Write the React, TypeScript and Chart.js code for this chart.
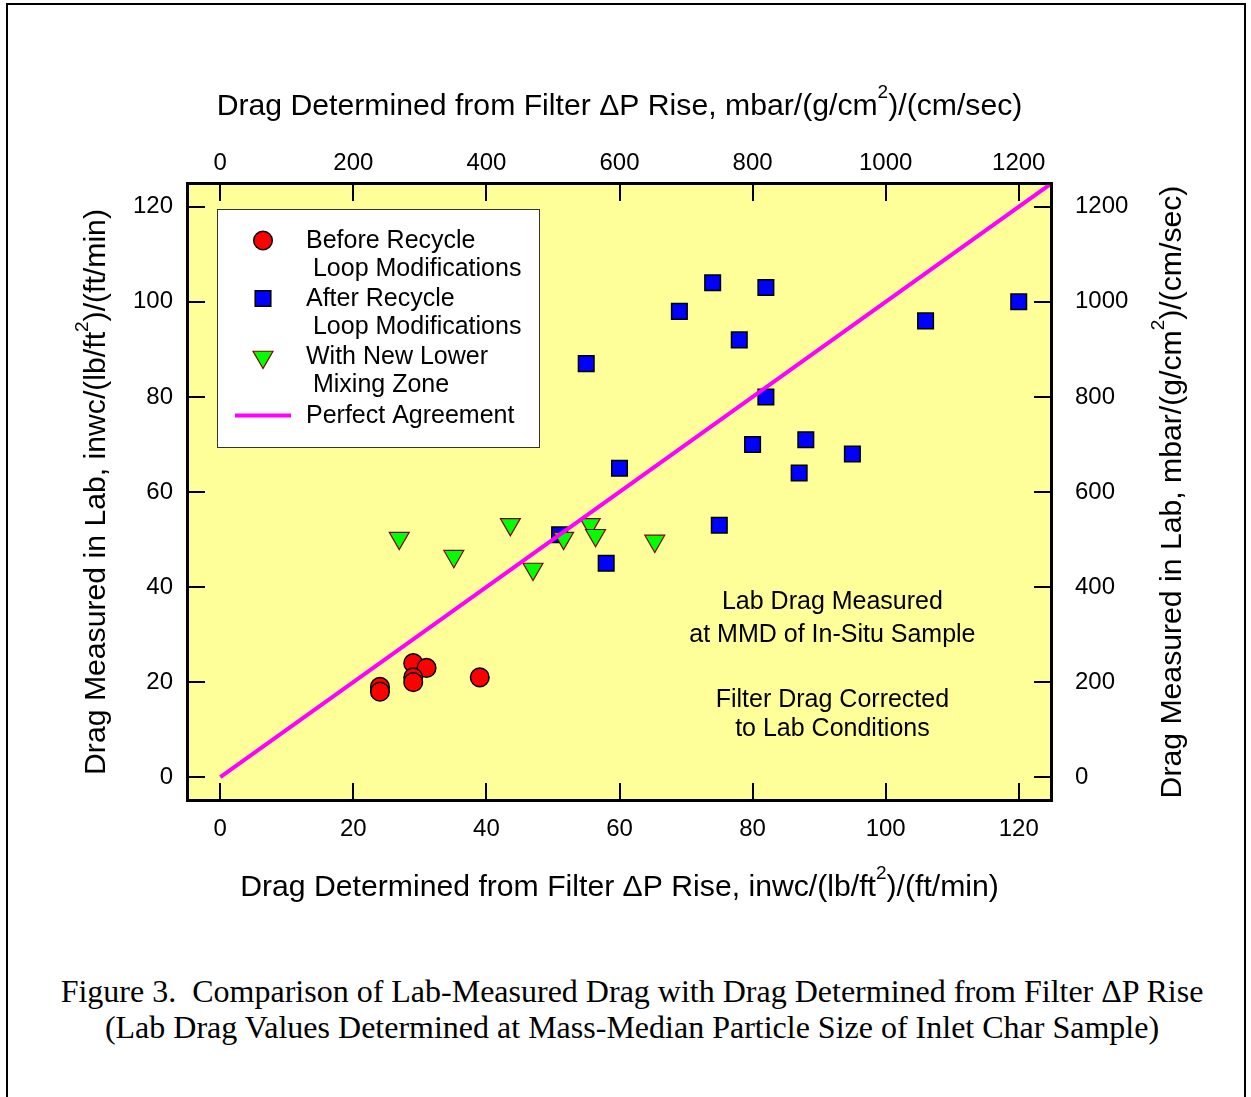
import React, { useEffect, useRef } from 'react';
import { Chart, registerables } from 'chart.js';

Chart.register(...registerables);

// ---- Data ----
const X_TICKS = [0, 20, 40, 60, 80, 100, 120];
const Y_TICKS = [0, 20, 40, 60, 80, 100, 120];
const X2_TICKS = [0, 200, 400, 600, 800, 1000, 1200];
const Y2_TICKS = [0, 200, 400, 600, 800, 1000, 1200];

const BEFORE_X = [24, 24, 29, 31, 29, 29, 39];
const BEFORE_Y = [19, 18, 24, 23, 21, 20, 21];

const AFTER_X = [74, 82, 69, 78, 55, 120, 106, 82, 60, 80, 88, 95, 87, 75, 51, 58];
const AFTER_Y = [104, 103, 98, 92, 87, 100, 96, 80, 65, 70, 71, 68, 64, 53, 51, 45];

const NEW_X = [26.9, 35.1, 43.6, 47.0, 51.6, 55.6, 56.4, 65.3];
const NEW_Y = [50.3, 46.5, 53.2, 43.8, 50.3, 53.2, 50.9, 49.7];

const LINE_X = [0, 125];
const LINE_Y = [0, 125];

const LEGEND_LABELS = [
  ['Before Recycle', ' Loop Modifications'],
  ['After Recycle', ' Loop Modifications'],
  ['With New Lower', ' Mixing Zone'],
  ['Perfect Agreement'],
];

const NOTE_LINES = [
  ['Lab Drag Measured', 'at MMD of In-Situ Sample'],
  ['Filter Drag Corrected', 'to Lab Conditions'],
];

// odd-indexed parts are superscripts
const TITLE_BOTTOM = ['Drag Determined from Filter \u0394P Rise, inwc/(lb/ft', '2', ')/(ft/min)'];
const TITLE_TOP = ['Drag Determined from Filter \u0394P Rise, mbar/(g/cm', '2', ')/(cm/sec)'];
const TITLE_LEFT = ['Drag Measured in Lab, inwc/(lb/ft', '2', ')/(ft/min)'];
const TITLE_RIGHT = ['Drag Measured in Lab, mbar/(g/cm', '2', ')/(cm/sec)'];

const CAPTION_LINES = [
  'Figure 3.  Comparison of Lab-Measured Drag with Drag Determined from Filter \u0394P Rise',
  '(Lab Drag Values Determined at Mass-Median Particle Size of Inlet Char Sample)',
];

const FONT = '"Liberation Sans", Arial, Helvetica, sans-serif';
const TICK_FONT = 24;
const TEXT_FONT = 25;
const TITLE_FONT = 30.2;
const SUP_FONT = 19;

const zip = (xs: number[], ys: number[]) => xs.map((x, i) => ({ x, y: ys[i] }));

function drawRich(
  ctx: CanvasRenderingContext2D,
  parts: string[],
  cx: number,
  baseY: number,
  rotation: number
) {
  ctx.save();
  ctx.translate(cx, baseY);
  ctx.rotate(rotation);
  ctx.textBaseline = 'alphabetic';
  ctx.textAlign = 'left';
  ctx.fillStyle = '#000';
  const widths = parts.map((p, i) => {
    ctx.font = `${i % 2 ? SUP_FONT : TITLE_FONT}px ${FONT}`;
    return ctx.measureText(p).width;
  });
  const total = widths.reduce((a, b) => a + b, 0);
  let x = -total / 2;
  parts.forEach((p, i) => {
    ctx.font = `${i % 2 ? SUP_FONT : TITLE_FONT}px ${FONT}`;
    ctx.fillText(p, x, i % 2 ? -17 : 0);
    x += widths[i];
  });
  ctx.restore();
}

function drawMarker(ctx: CanvasRenderingContext2D, kind: string, x: number, y: number) {
  ctx.save();
  if (kind === 'circle') {
    ctx.beginPath();
    ctx.arc(x, y, 9.3, 0, Math.PI * 2);
    ctx.fillStyle = '#FF0000';
    ctx.fill();
    ctx.lineWidth = 1.5;
    ctx.strokeStyle = '#000';
    ctx.stroke();
  } else if (kind === 'rect') {
    const s = 7.8;
    ctx.beginPath();
    ctx.rect(x - s, y - s, 2 * s, 2 * s);
    ctx.fillStyle = '#0000FF';
    ctx.fill();
    ctx.lineWidth = 1.5;
    ctx.strokeStyle = '#000';
    ctx.stroke();
  } else if (kind === 'tri') {
    const r = 11.5;
    ctx.beginPath();
    for (let k = 0; k < 3; k++) {
      const a = Math.PI + (k * 2 * Math.PI) / 3;
      const px = x + Math.sin(a) * r;
      const py = y - Math.cos(a) * r;
      if (k === 0) ctx.moveTo(px, py);
      else ctx.lineTo(px, py);
    }
    ctx.closePath();
    ctx.fillStyle = '#00FF00';
    ctx.fill();
    ctx.lineWidth = 1.2;
    ctx.strokeStyle = '#800000';
    ctx.stroke();
  } else if (kind === 'line') {
    ctx.beginPath();
    ctx.moveTo(x - 28, y);
    ctx.lineTo(x + 28, y);
    ctx.lineWidth = 4;
    ctx.strokeStyle = '#FF00FF';
    ctx.stroke();
  }
  ctx.restore();
}

const decorPlugin = {
  id: 'decor',
  beforeDatasetsDraw(chart: any) {
    const { ctx, chartArea: a } = chart;
    ctx.save();
    ctx.fillStyle = '#FFFF99';
    ctx.fillRect(a.left, a.top, a.right - a.left, a.bottom - a.top);
    ctx.restore();
  },
  afterDatasetsDraw(chart: any) {
    const { ctx, chartArea: a, scales } = chart;
    ctx.save();
    // inward ticks
    ctx.strokeStyle = '#000';
    ctx.lineWidth = 2;
    const L = 18;
    ctx.beginPath();
    scales.x.ticks.forEach((t: any) => {
      const p = Math.round(scales.x.getPixelForValue(t.value));
      ctx.moveTo(p, a.bottom);
      ctx.lineTo(p, a.bottom - L);
    });
    scales.x2.ticks.forEach((t: any) => {
      const p = Math.round(scales.x2.getPixelForValue(t.value));
      ctx.moveTo(p, a.top);
      ctx.lineTo(p, a.top + L);
    });
    scales.y.ticks.forEach((t: any) => {
      const p = Math.round(scales.y.getPixelForValue(t.value));
      ctx.moveTo(a.left, p);
      ctx.lineTo(a.left + L, p);
    });
    scales.y2.ticks.forEach((t: any) => {
      const p = Math.round(scales.y2.getPixelForValue(t.value));
      ctx.moveTo(a.right, p);
      ctx.lineTo(a.right - L, p);
    });
    ctx.stroke();
    // frame
    ctx.lineWidth = 3;
    ctx.strokeRect(a.left + 0.5, a.top + 0.5, a.right - a.left - 1, a.bottom - a.top - 1);

    // legend
    const bx = a.left + 30;
    const by = a.top + 26;
    const bw = 322;
    const bh = 238;
    ctx.fillStyle = '#FFFFFF';
    ctx.fillRect(bx, by, bw, bh);
    ctx.lineWidth = 1;
    ctx.strokeStyle = '#333';
    ctx.strokeRect(bx + 0.5, by + 0.5, bw, bh);
    const kinds = ['circle', 'rect', 'tri', 'line'];
    const markerY = [31.5, 89.5, 148, 206.5];
    const textY = [32, 90, 148, 207];
    ctx.font = `${TEXT_FONT}px ${FONT}`;
    ctx.textBaseline = 'middle';
    ctx.textAlign = 'left';
    LEGEND_LABELS.forEach((lines, i) => {
      drawMarker(ctx, kinds[i], bx + 46, by + markerY[i]);
      ctx.fillStyle = '#000';
      lines.forEach((s, j) => {
        ctx.fillText(s, bx + 89, by + textY[i] + j * 28);
      });
    });

    // notes
    ctx.textAlign = 'center';
    ctx.fillStyle = '#000';
    const nx = scales.x.getPixelForValue(92);
    const noteY = [[602, 635], [700, 729]];
    NOTE_LINES.forEach((lines, i) => {
      lines.forEach((s, j) => ctx.fillText(s, nx, noteY[i][j]));
    });
    ctx.restore();
  },
  afterDraw(chart: any) {
    const { ctx, chartArea: a } = chart;
    const cx = (a.left + a.right) / 2;
    const cy = (a.top + a.bottom) / 2;
    drawRich(ctx, TITLE_TOP, cx, 115, 0);
    drawRich(ctx, TITLE_BOTTOM, cx, 896, 0);
    drawRich(ctx, TITLE_LEFT, 105, cy, -Math.PI / 2);
    drawRich(ctx, TITLE_RIGHT, 1181, cy, -Math.PI / 2);
  },
};

const tickOpts = (padding: number) => ({
  color: '#000',
  font: { size: TICK_FONT, family: FONT },
  padding,
  maxRotation: 0,
  autoSkip: false,
  callback: (v: any) => String(v),
});

export default function App() {
  const ref = useRef<HTMLCanvasElement>(null);

  useEffect(() => {
    if (!ref.current) return;
    Chart.defaults.font.family = FONT;
    Chart.defaults.color = '#000';
    const chart = new Chart(ref.current, {
      type: 'scatter',
      data: {
        datasets: [
          {
            label: 'Perfect Agreement',
            data: zip(LINE_X, LINE_Y),
            showLine: true,
            borderColor: '#FF00FF',
            borderWidth: 4,
            pointRadius: 0,
            order: 0,
          } as any,
          {
            label: 'With New Lower Mixing Zone',
            data: zip(NEW_X, NEW_Y),
            pointStyle: 'triangle',
            rotation: 180,
            pointRadius: 11.5,
            backgroundColor: '#00FF00',
            borderColor: '#800000',
            borderWidth: 1.2,
            order: 1,
          },
          {
            label: 'After Recycle Loop Modifications',
            data: zip(AFTER_X, AFTER_Y),
            pointStyle: 'rect',
            pointRadius: 11,
            backgroundColor: '#0000FF',
            borderColor: '#000',
            borderWidth: 1.5,
            order: 2,
          },
          {
            label: 'Before Recycle Loop Modifications',
            data: zip(BEFORE_X, BEFORE_Y),
            pointStyle: 'circle',
            pointRadius: 9.3,
            backgroundColor: '#FF0000',
            borderColor: '#000',
            borderWidth: 1.5,
            order: 3,
          },
        ],
      },
      options: {
        responsive: false,
        animation: false,
        events: [],
        layout: { padding: 0 },
        plugins: { legend: { display: false }, tooltip: { enabled: false } },
        scales: {
          x: {
            type: 'linear',
            position: 'bottom',
            min: -5,
            max: 125,
            grid: { display: false, drawTicks: false },
            border: { display: false },
            ticks: tickOpts(13.5),
            afterBuildTicks: (s: any) => { s.ticks = X_TICKS.map((value) => ({ value })); },
            afterFit: (s: any) => { s.height = 129; },
          },
          x2: {
            type: 'linear',
            position: 'top',
            min: -50,
            max: 1250,
            grid: { display: false, drawTicks: false },
            border: { display: false },
            ticks: tickOpts(5),
            afterBuildTicks: (s: any) => { s.ticks = X2_TICKS.map((value) => ({ value })); },
            afterFit: (s: any) => { s.height = 183; },
          },
          y: {
            type: 'linear',
            position: 'left',
            min: -5,
            max: 125,
            grid: { display: false, drawTicks: false },
            border: { display: false },
            ticks: tickOpts(14),
            afterBuildTicks: (s: any) => { s.ticks = Y_TICKS.map((value) => ({ value })); },
            afterFit: (s: any) => { s.width = 187; },
          },
          y2: {
            type: 'linear',
            position: 'right',
            min: -50,
            max: 1250,
            grid: { display: false, drawTicks: false },
            border: { display: false },
            ticks: tickOpts(23),
            afterBuildTicks: (s: any) => { s.ticks = Y2_TICKS.map((value) => ({ value })); },
            afterFit: (s: any) => { s.width = 199; },
          },
        },
      } as any,
      plugins: [decorPlugin],
    });
    return () => chart.destroy();
  }, []);

  return (
    <div
      style={{
        position: 'absolute',
        left: 0,
        top: 0,
        width: 1251,
        height: 1097,
        overflow: 'hidden',
        background: '#fff',
      }}
    >
      <div
        style={{
          position: 'absolute',
          left: 6,
          top: 3,
          width: 1236,
          height: 1200,
          border: '2px solid #000',
        }}
      />
      <canvas
        ref={ref}
        width={1251}
        height={930}
        style={{ position: 'absolute', left: 0, top: 0, width: 1251, height: 930 }}
      />
      <div
        style={{
          position: 'absolute',
          left: 6,
          top: 973,
          width: 1252,
          textAlign: 'center',
          fontFamily: '"Liberation Serif", "Times New Roman", serif',
          fontSize: 32,
          lineHeight: '36px',
          whiteSpace: 'pre',
          color: '#000',
        }}
      >
        {CAPTION_LINES.join('\n')}
      </div>
    </div>
  );
}
